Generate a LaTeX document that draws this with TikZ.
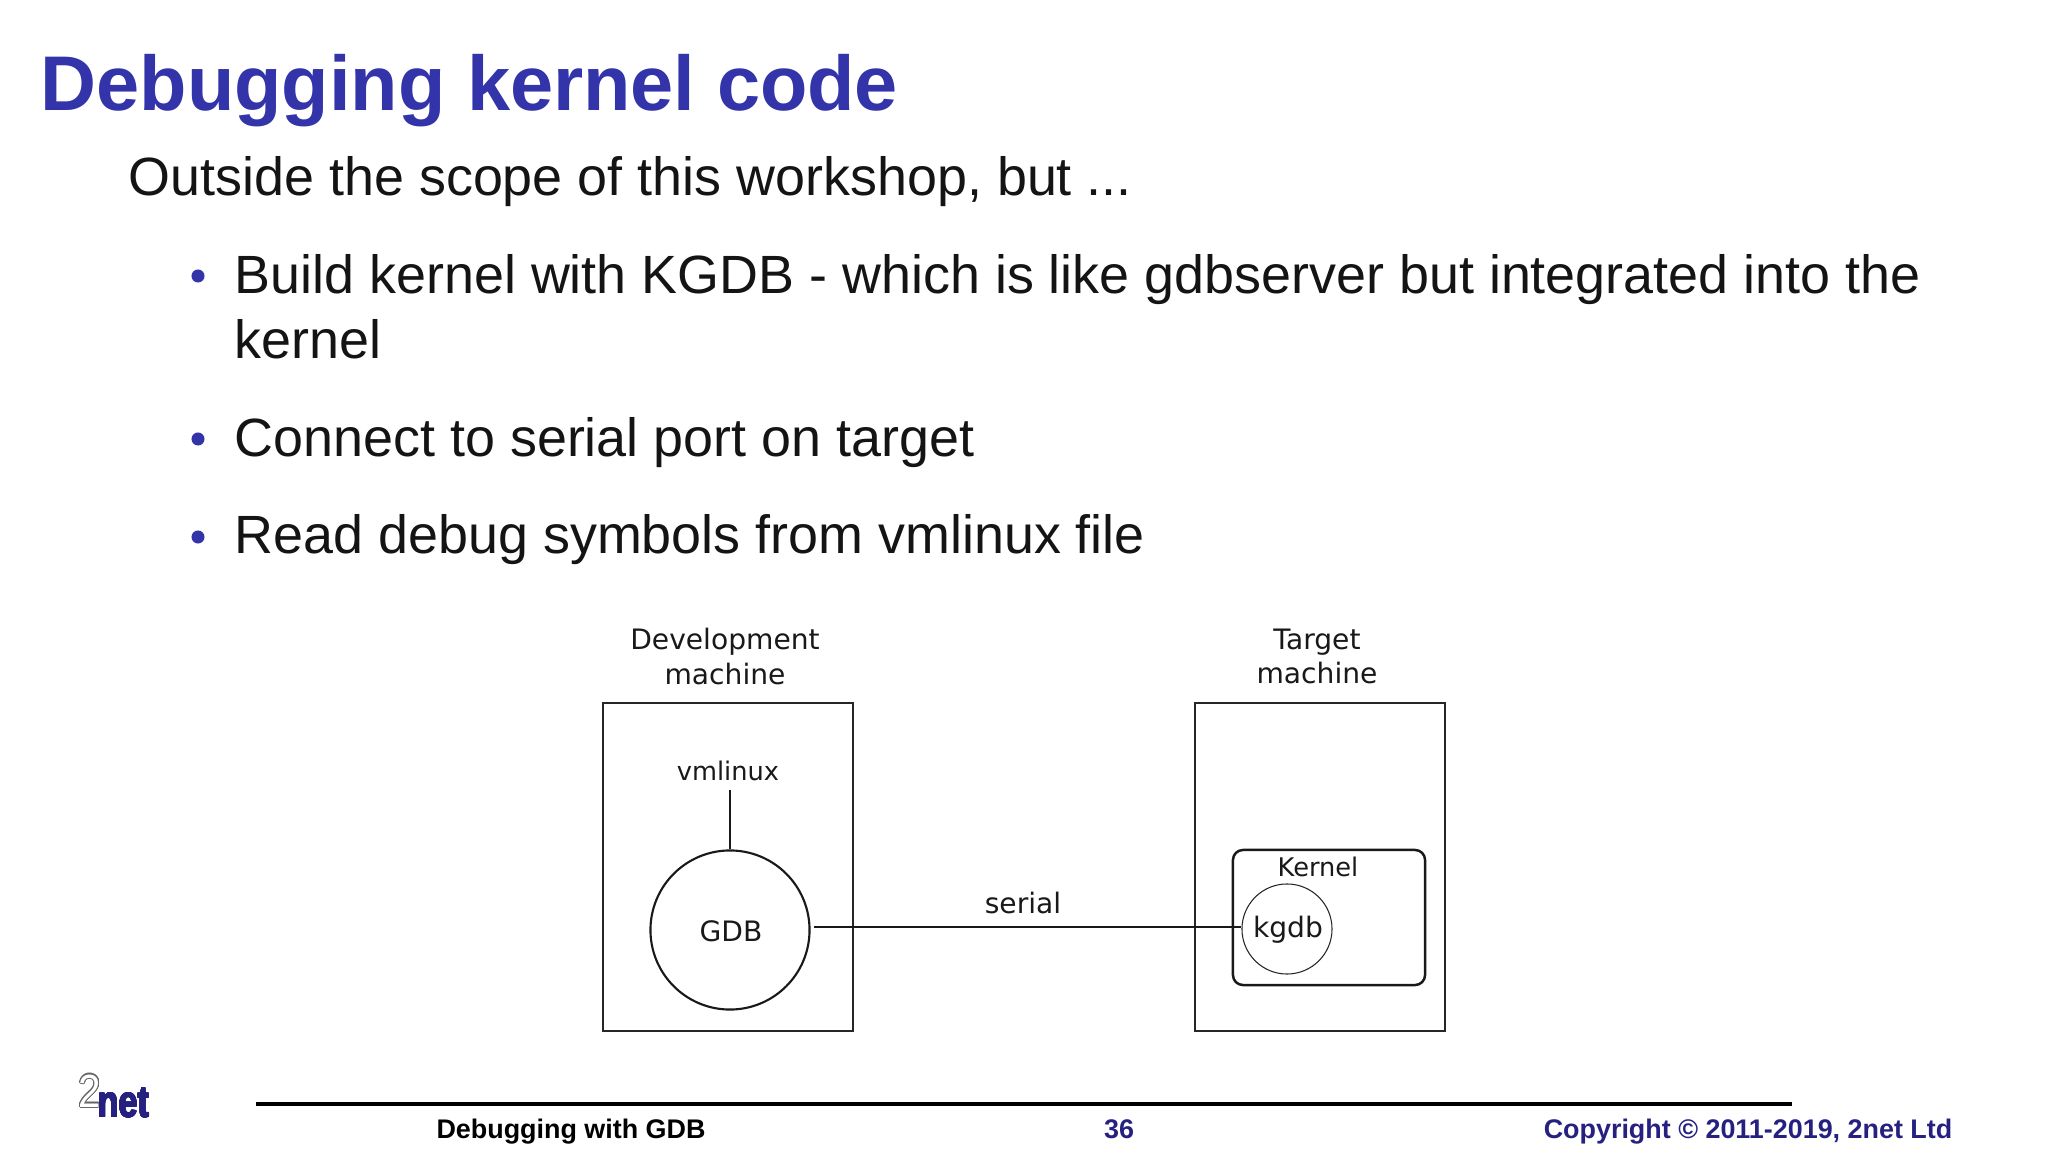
\documentclass[tikz,border=0pt]{standalone}
\usepackage{fontspec}
\usepackage{contour}
\setmainfont{Liberation Sans}
\newfontfamily\figfont{DejaVu Sans}
\definecolor{titleblue}{RGB}{51,51,170}
\definecolor{footblue}{RGB}{38,32,128}
\definecolor{bodyblack}{RGB}{20,20,20}
\contourlength{0.25pt}
\begin{document}
\begin{tikzpicture}[x=0.01cm,y=-0.01cm]
    % Node styles
    \tikzset{
        slide text/.style={anchor=base west,inner sep=0pt,text=bodyblack,font=\fontsize{15.32}{18}\selectfont},
        bullet dot/.style={circle,fill=titleblue,inner sep=0pt,minimum size=0.13cm},
        foot text/.style={anchor=base,inner sep=0pt,font=\fontsize{7.65}{10}\selectfont\bfseries},
        fig text/.style={inner sep=0pt,align=center,text=black!90,font=\fontsize{8}{9.7}\selectfont\figfont},
        small fig text/.style={fig text,font=\fontsize{7.3}{9.7}\selectfont\figfont},
        machine box/.style={draw=black!85,line width=0.7pt,minimum width=2.5cm,minimum height=3.28cm,inner sep=0pt},
        fig line/.style={draw=black!90,line width=0.6pt}
    }
    \useasboundingbox[fill=white] (0,0) rectangle (2048,1152);

    % --- Title and text ---
    \node[anchor=base west,inner sep=0pt,text=titleblue,font=\fontsize{22.05}{24}\selectfont\bfseries] (title) at (40,111) {Debugging kernel code};
    \node[slide text] (intro) at (128,196) {Outside the scope of this workshop, but ...};
    \node[bullet dot] (dot1) at (198,276) {};
    \node[slide text] (build) at (234,294) {Build kernel with KGDB - which is like gdbserver but integrated into the};
    \node[slide text] (buildb) at (234,359) {kernel};
    \node[bullet dot] (dot2) at (198,439) {};
    \node[slide text] (connect) at (234,457) {Connect to serial port on target};
    \node[bullet dot] (dot3) at (198,537) {};
    \node[slide text] (read) at (234,554) {Read debug symbols from vmlinux file};

    % --- Development machine ---
    \node[machine box] (dev) at (728,867) {};
    \node[fig text] (devlabel) at (725,656.5) {Development\\machine};
    \node[circle,fig line,minimum size=1.59cm,inner sep=0pt] (gdb) at (730,930) {};
    \node[fig text] (gdblabel) at (731,931) {GDB};
    \node[small fig text,inner sep=0.08cm] (vmlinux) at (728,771) {vmlinux};
    \draw[fig line] (gdb.north |- vmlinux.south) -- (gdb.north);

    % --- Target machine ---
    \node[machine box] (tgt) at (1320,867) {};
    \node[fig text] (tgtlabel) at (1317,656.5) {Target\\machine};
    \node[draw=black!90,line width=0.7pt,rounded corners=0.1cm,minimum width=1.92cm,minimum height=1.35cm,inner sep=0pt] (kernel) at (1329,917.5) {};
    \node[small fig text] (kernellabel) at (1318,867) {Kernel};
    \node[circle,draw=black!85,line width=0.3pt,minimum size=0.9cm,inner sep=0pt] (kgdb) at (1287,929) {};
    \node[fig text] (kgdblabel) at (1288,930) {kgdb};

    % --- Serial link ---
    \draw[fig line,shorten <=0.03cm] (gdb.2) -- (gdb.2 -| kgdb.west);
    \node[fig text] (serial) at (1023,903) {serial};

    % --- Footer ---
    \coordinate (ruleleft) at (256,1104);
    \coordinate (ruleright) at (1792,1104);
    \draw[line width=1.1pt,black] (ruleleft) -- (ruleright);
    \node[foot text,text=black] (footleft) at (571,1138) {Debugging with GDB};
    \node[foot text,text=footblue] (footpage) at (1119,1138) {36};
    \node[foot text,text=footblue,anchor=base east] (footright) at (1953,1138) {Copyright © 2011-2019, 2net Ltd};

    % --- Logo ---
    \node[anchor=base west,inner sep=0pt,font=\fontsize{11.5}{12}\selectfont] (logotwo) at (78,1107) {\scalebox{1}[1.15]{\contour{black!60}{\textcolor{white}{2}}}};
    \contourlength{0.2pt}
    \node[anchor=base west,inner sep=0pt,font=\fontsize{10.5}{12}\selectfont\bfseries] (logonet) at (97,1117) {\scalebox{0.93}[1.2]{\contour{footblue}{\textcolor{footblue}{net}}}};
\end{tikzpicture}
\end{document}
